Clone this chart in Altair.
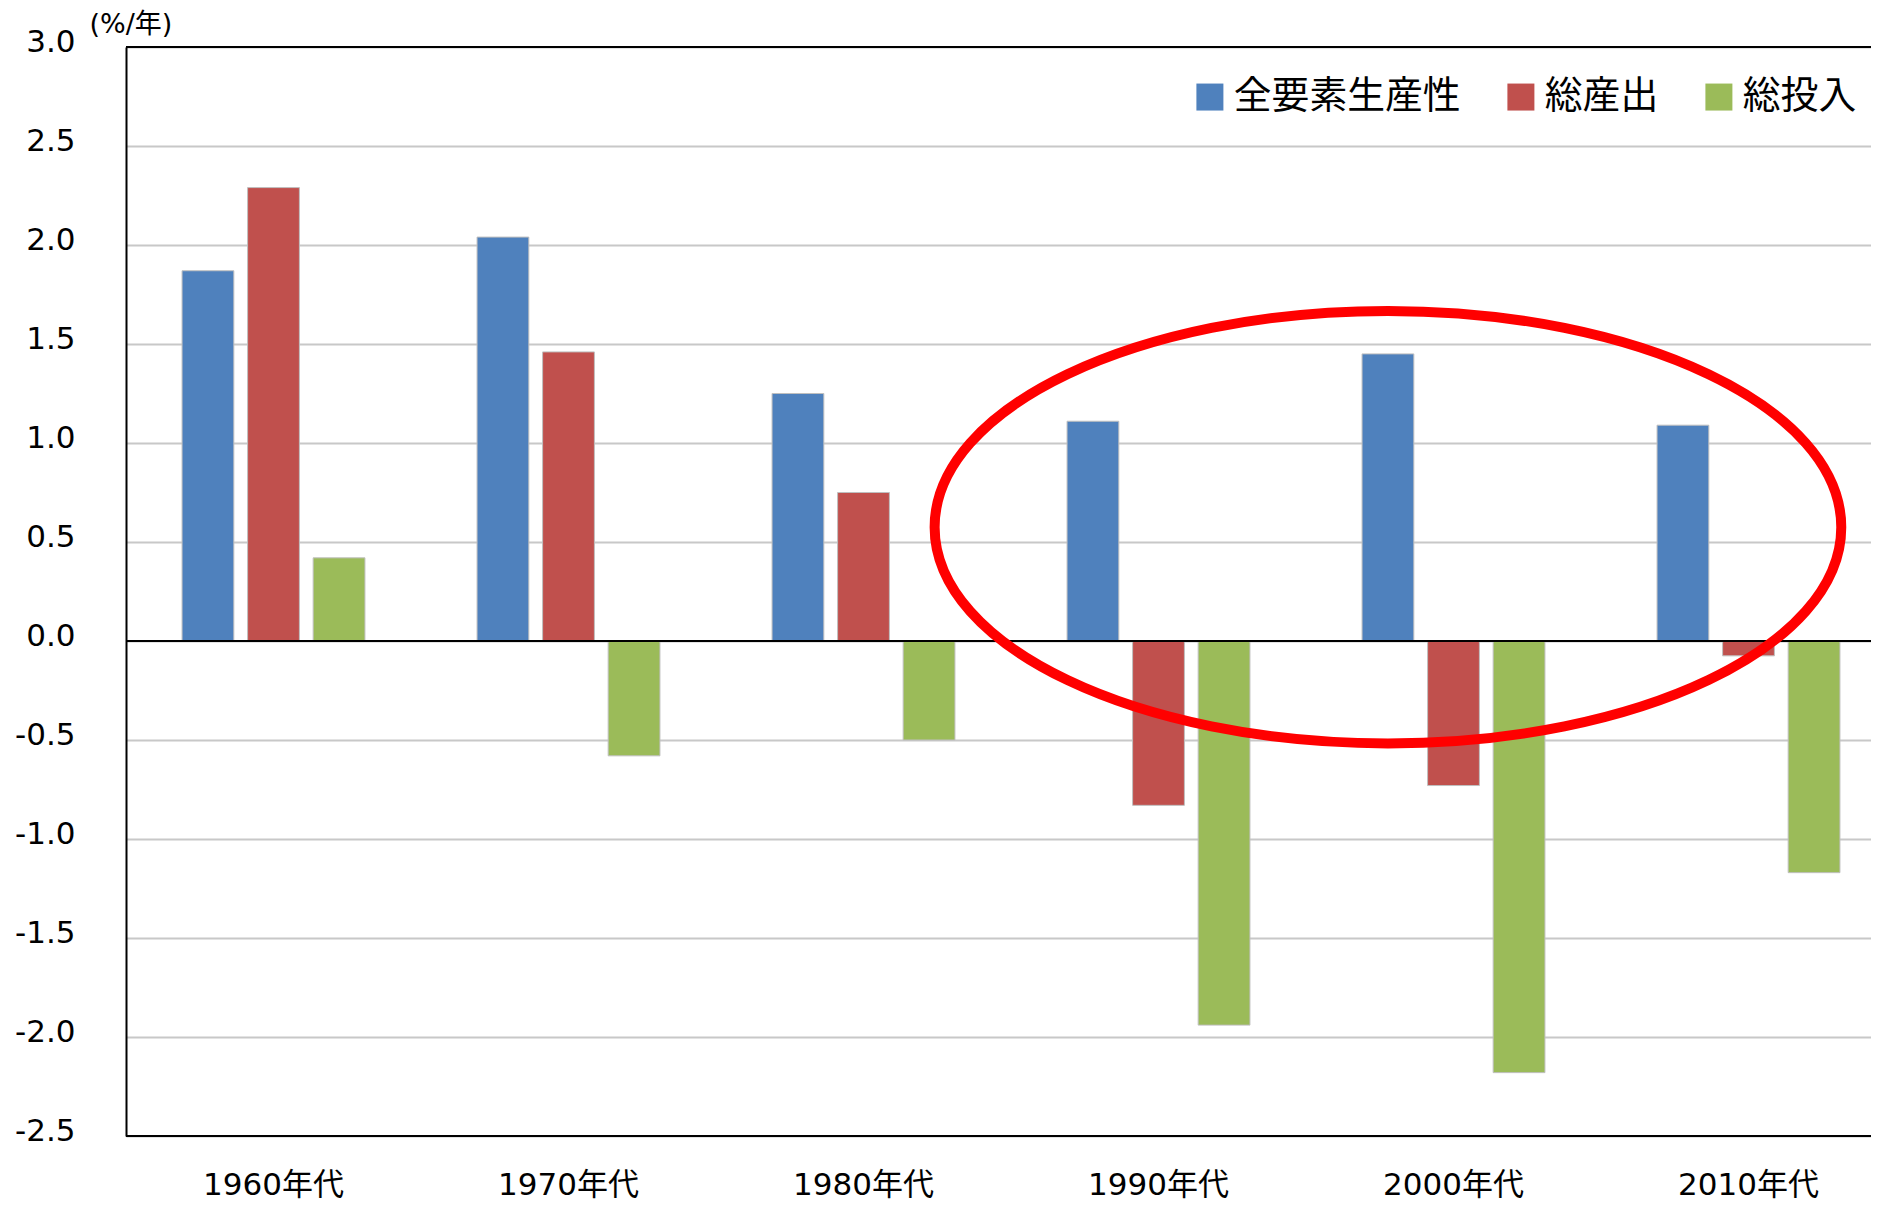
import altair as alt
import pandas as pd

# ---- data ----
decades = ["1960年代", "1970年代", "1980年代", "1990年代", "2000年代", "2010年代"]
series = ["全要素生産性", "総産出", "総投入"]
tfp = [1.87, 2.04, 1.25, 1.11, 1.45, 1.09]
total_output = [2.29, 1.46, 0.75, -0.83, -0.73, -0.075]
total_input = [0.42, -0.58, -0.50, -1.94, -2.18, -1.17]
colors = ["#4F81BD", "#C0504D", "#9BBB59"]
y_ticks = [-2.5, -2.0, -1.5, -1.0, -0.5, 0.0, 0.5, 1.0, 1.5, 2.0, 2.5, 3.0]
y_min, y_max = -2.5, 3.0
unit_label = "(%/年)"

# highlighted region (annotation ellipse) anchored on the 2000s TFP bar
highlight_decade = ["2000年代"]
highlight_series = ["全要素生産性"]
highlight_value = [0.575]

rows = []
for name, vals in zip(series, [tfp, total_output, total_input]):
    for d, v in zip(decades, vals):
        rows.append({"decade": d, "series": name, "value": v})
df = pd.DataFrame(rows)

num_font = "'DejaVu Sans', 'Noto Sans CJK JP'"
jp_font = "'Noto Sans CJK JP'"

PLOT_W = 1745
BAND_RANGE = [0, 1770]

x_enc = alt.X(
    "decade:N",
    sort=decades,
    scale=alt.Scale(paddingInner=0, paddingOuter=0, range=BAND_RANGE),
    axis=alt.Axis(
        title=None, labelAngle=0, labelFont=num_font, labelFontSize=31,
        labelColor="black", labelBaseline="alphabetic", labelPadding=58,
        ticks=False, tickSize=0, domain=False, grid=False,
    ),
)
xoff_enc = alt.XOffset(
    "series:N", sort=series,
    scale=alt.Scale(paddingInner=0.21, paddingOuter=0.855),
)
y_enc = alt.Y(
    "value:Q",
    scale=alt.Scale(domain=[y_min, y_max], nice=False),
    axis=alt.Axis(
        values=y_ticks,
        labelExpr="replace(format(datum.value, '.1f'), '−', '-')",
        labelFont=num_font, labelFontSize=31,
        labelColor="black", labelPadding=51, labelOffset=-5,
        ticks=False, tickSize=0,
        domain=True, domainColor="black", domainWidth=2,
        grid=True, gridColor="#C8C8C8", gridWidth=2,
        title=unit_label, titleAngle=0, titleAlign="left", titleBaseline="top",
        titleX=-37, titleY=-36, titleFont=num_font, titleFontSize=27,
        titleFontWeight="normal", titleColor="black",
    ),
)

bars = alt.Chart(df).mark_bar(stroke="#BFBFBF", strokeWidth=1).encode(
    x=x_enc,
    xOffset=xoff_enc,
    y=y_enc,
    color=alt.Color(
        "series:N",
        scale=alt.Scale(domain=series, range=colors),
        legend=alt.Legend(
            title=None, orient="none", legendX=1065, legendY=31,
            direction="horizontal", symbolType="square", symbolSize=729,
            symbolStrokeWidth=0, labelFont=jp_font, labelFontSize=37.8,
            labelColor="black", labelOffset=5, columnPadding=41,
            padding=0, labelLimit=0,
        ),
    ),
)

zero_df = pd.DataFrame({"value": [0.0]})
zero_line = alt.Chart(zero_df).mark_rule(color="black", strokeWidth=2).encode(
    y="value:Q"
)

frame_df = pd.DataFrame({"value": [y_min, y_max]})
frame = alt.Chart(frame_df).mark_rule(color="black", strokeWidth=2).encode(
    y="value:Q"
)

ellipse_path = "M-1,0A1,0.477,0,1,1,1,0A1,0.477,0,1,1,-1,0Z"
hl_df = pd.DataFrame({
    "decade": highlight_decade,
    "series": highlight_series,
    "value": highlight_value,
})
ellipse = alt.Chart(hl_df).mark_point(
    shape=ellipse_path, size=822000, filled=False,
    stroke="#FF0000", color="#FF0000", strokeWidth=10, opacity=1,
    xOffset=-3,
).encode(
    x=alt.X("decade:N", sort=decades),
    xOffset=alt.XOffset("series:N", sort=series),
    y="value:Q",
)

chart = alt.layer(bars, zero_line, frame, ellipse).properties(
    width=PLOT_W,
    height=1089,
    autosize=alt.AutoSizeParams(type="none"),
    padding={"left": 118, "top": 39, "right": 0, "bottom": 65},
).configure_view(stroke=None)

chart.save("out.html", embed_options={"renderer": "svg", "actions": False})
